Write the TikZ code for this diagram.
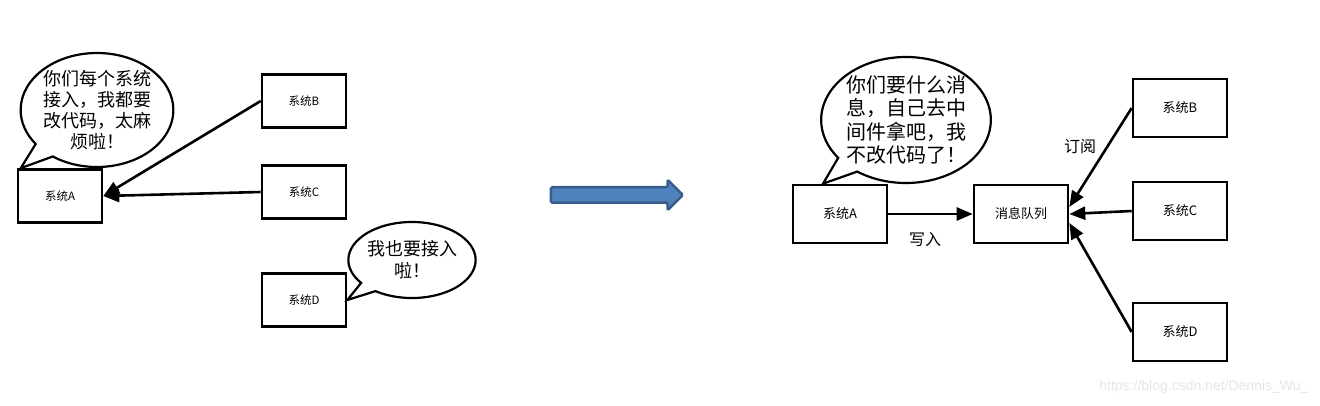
\documentclass[tikz,border=0pt]{standalone}
\usepackage{fontspec}
\usepackage{tikz}
\usetikzlibrary{arrows.meta,shapes.callouts,shapes.arrows}
\newfontfamily\cjk{Noto Sans CJK SC}
\newfontfamily\wmfont{Liberation Sans}
\definecolor{arrowfill}{HTML}{4F81BD}
\definecolor{arrowedge}{HTML}{385D8A}

\begin{document}
\begin{tikzpicture}[x=1pt,y=-1pt,
  sysbox/.style={draw,line width=2.6pt,minimum width=84pt,minimum height=53pt,inner sep=0pt,font=\cjk\fontsize{11.5}{13}\selectfont},
  bigbox/.style={sysbox,minimum width=94pt,minimum height=58pt,font=\cjk\fontsize{13}{15}\selectfont},
  talk/.style={ellipse callout,draw,line width=2.2pt,fill=white,inner sep=0pt,align=center,callout pointer arc=18},
  feed/.style={line width=2.6pt,-{Triangle[length=16pt,width=13pt]}},
  word/.style={font=\cjk\fontsize{16}{18}\selectfont}]
\useasboundingbox (0,0) rectangle (1320,406);

\node[sysbox] (lA) at (60,196) {系统A};
\node[sysbox] (lB) at (304,101) {系统B};
\node[sysbox] (lC) at (304,192) {系统C};
\node[sysbox] (lD) at (304,300) {系统D};
\draw[feed] (lB.west) -- (lA.east);
\draw[feed] (lC.west) -- (lA.east);
\node[talk,minimum width=152pt,minimum height=114pt,font=\cjk\fontsize{18}{21}\selectfont,
  callout absolute pointer={([xshift=4pt]lA.north west)}] (grumble) at (97,110)
  {你们每个系统\\接入，我都要\\改代码，太麻\\烦啦！};
\node[talk,minimum width=126pt,minimum height=76pt,font=\cjk\fontsize{18}{22}\selectfont,
  callout absolute pointer={(lD.east)}] (join) at (412,260) {我也要接入\\啦！};

\node[single arrow,draw=arrowedge,fill=arrowfill,line width=2.5pt,minimum height=132pt,
  inner xsep=0pt,inner ysep=6.5pt,single arrow head extend=7.5pt,rounded corners=1.5pt] (move) at (613,195) {};

\node[bigbox] (rA) at (840,214) {系统A};
\node[bigbox] (queue) at (1021,214) {消息队列};
\node[bigbox] (rB) at (1180,108) {系统B};
\node[bigbox] (rC) at (1180,211) {系统C};
\node[bigbox] (rD) at (1180,332) {系统D};
\draw[feed] (rA.east) -- (queue.west);
\draw[feed] (rB.west) -- ([yshift=7pt]queue.east);
\draw[feed] (rC.west) -- (queue.east);
\draw[feed] (rD.west) -- ([yshift=-9pt]queue.east);
\node[word] (write) at (925,240) {写入};
\node[word] (sub) at (1080,147) {订阅};
\node[talk,minimum width=166pt,minimum height=126pt,font=\cjk\fontsize{20}{23.5}\selectfont,
  callout absolute pointer={([xshift=-17pt]rA.north)}] (relax) at (906,120)
  {你们要什么消\\息，自己去中\\间件拿吧，我\\不改代码了！};

\node[font=\wmfont\fontsize{14}{16}\selectfont,text=black!10,anchor=east] (mark) at (1312,387) {https://blog.csdn.net/Dennis\_Wu\_};
\end{tikzpicture}
\end{document}
